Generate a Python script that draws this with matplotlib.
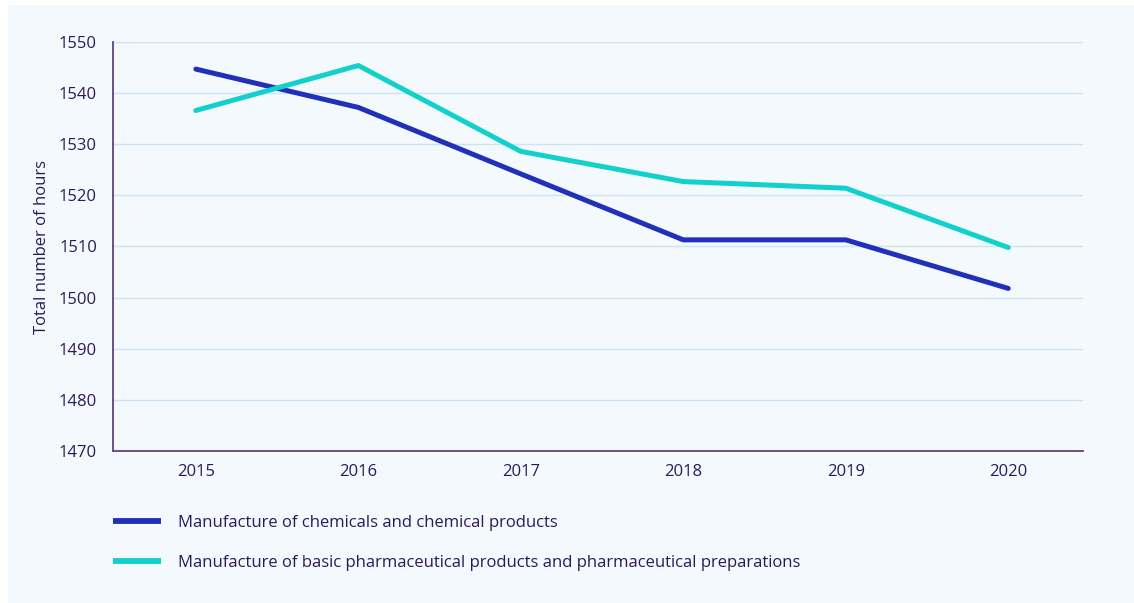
import matplotlib
matplotlib.use("Agg")
import matplotlib.pyplot as plt
from matplotlib.patches import Rectangle

years = [2015, 2016, 2017, 2018, 2019, 2020]
chemicals = [1544.7, 1537.2, 1524.2, 1511.3, 1511.3, 1501.8]
pharma = [1536.6, 1545.4, 1528.6, 1522.7, 1521.4, 1509.8]
series_names = ["Manufacture of chemicals and chemical products",
                "Manufacture of basic pharmaceutical products and pharmaceutical preparations"]
yticks = list(range(1470, 1551, 10))

txt = "#2b1a5a"
plt.rcParams['font.family'] = ['Open Sans', 'DejaVu Sans']

fig = plt.figure(figsize=(11.34, 6.03), dpi=100)
fig.patch.set_facecolor("white")
# pale panel behind everything
fig.patches.append(Rectangle((8/1134, 0), 1 - 8/1134, 1 - 5/603, transform=fig.transFigure,
                             facecolor="#f4f9fd", edgecolor="none", zorder=-10))

ax = fig.add_axes([113/1134, 1 - 451/603, (1083 - 113)/1134, (451 - 42)/603])
ax.set_facecolor("none")
ax.set_zorder(5)

x = list(range(len(years)))
ax.plot(x, chemicals, color="#2130b8", lw=3.6, solid_capstyle="round", label=series_names[0], zorder=3)
ax.plot(x, pharma, color="#12d0cc", lw=3.6, solid_capstyle="round", label=series_names[1], zorder=3)

ax.set_xlim(-0.51, 5.46)
ax.set_ylim(1470, 1550)
ax.set_xticks(x)
ax.set_xticklabels([str(y) for y in years])
ax.set_yticks(yticks)
ax.tick_params(length=0, labelsize=12, colors=txt)
ax.tick_params(axis="y", pad=11.5)
ax.tick_params(axis="x", pad=9)
ax.grid(axis="y", color="#cfe3f7", lw=1)
ax.set_axisbelow(True)
for s in ["top", "right"]:
    ax.spines[s].set_visible(False)
for s in ["left", "bottom"]:
    ax.spines[s].set_color("#5a4580")
    ax.spines[s].set_linewidth(1.3)

ax.set_ylabel("Total number of hours", fontsize=12, color=txt, labelpad=6)

leg = ax.legend(loc="upper left", bbox_to_anchor=(0, -0.156), frameon=False, fontsize=12,
                borderpad=0, borderaxespad=0, handlelength=2.9, handletextpad=1.0,
                labelspacing=1.45, labelcolor=txt)
for h in leg.get_lines():
    h.set_solid_capstyle("butt")
    h.set_linewidth(4.2)

fig.savefig("out.png", dpi=100, facecolor=fig.get_facecolor())
